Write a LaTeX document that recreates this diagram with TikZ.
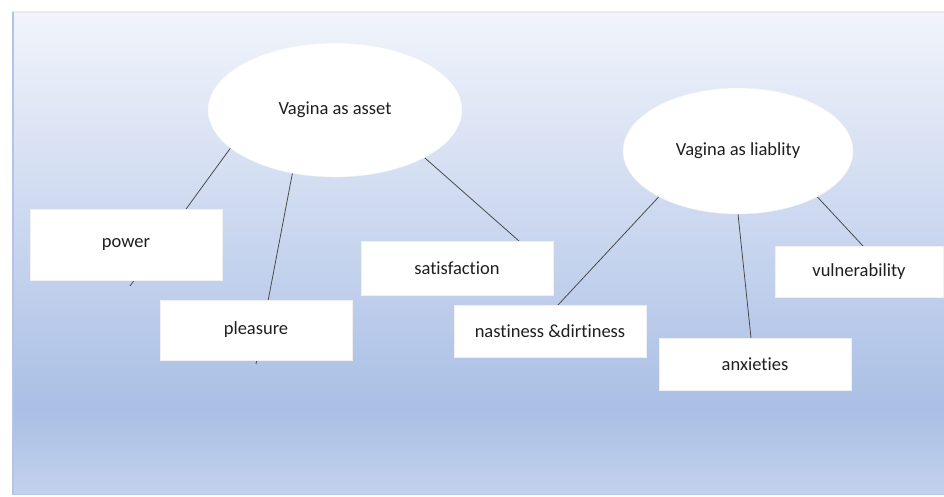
\documentclass[tikz,border=0pt]{standalone}
\usepackage{fontspec}
\setmainfont{Carlito}[Ligatures=NoCommon]
\usetikzlibrary{shapes.geometric}
\usetikzlibrary{backgrounds}

\pgfdeclarelayer{edges}
\pgfdeclarelayer{foreground}
\pgfsetlayers{background,edges,main,foreground}

\definecolor{bgtop}{HTML}{F1F4FB}
\definecolor{bgdeep}{HTML}{AABFE5}
\definecolor{bgbot}{HTML}{C3D2ED}
\definecolor{bgedge}{HTML}{A6BAE2}
\definecolor{linkgray}{HTML}{444444}

\tikzset{
  theme/.style={ellipse, fill=white, draw=black!6, inner sep=0pt, outer sep=0pt,
    font=\fontsize{18.5}{22}\selectfont, text=black!88},
  item/.style={rectangle, fill=white, draw=black!6, inner sep=0pt, outer sep=0pt,
    minimum width=192pt, font=\fontsize{18.5}{22}\selectfont, text=black!88},
  link/.style={draw=linkgray, line width=0.75pt}
}

\begin{document}
\begin{tikzpicture}[x=1pt, y=-1pt]

    \useasboundingbox (0,0) rectangle (944,496);

    % Backdrop
    \begin{scope}[on background layer]
      \shade[top color=bgtop, bottom color=bgdeep] (12,12) rectangle (944,410);
      \shade[top color=bgdeep, bottom color=bgbot] (12,410) rectangle (944,494);
      \draw[black!8, line width=1.2pt] (12,12) -- (944,12);
      \draw[bgedge!85, line width=2.5pt] (13,12) -- (13,494);
      \draw[bgedge!80, line width=1pt] (12,494) -- (944,494);
    \end{scope}

    % Themes
    \node[theme, minimum width=254pt, minimum height=134pt] (asset) at (335,110) {Vagina as asset};
    \node[theme, minimum width=230pt, minimum height=126pt] (liability) at (738,151) {Vagina as liablity};

    % Items
    \node[item, minimum height=71pt] (power) at (126,244.5) {power};
    \node[item, minimum height=60pt] (pleasure) at (256,330) {pleasure};
    \node[item, minimum height=54pt] (satisfaction) at (457,268) {satisfaction};
    \node[item, minimum height=52pt] (nastiness) at (550,331) {nastiness \&dirtiness};
    \node[item, minimum height=52pt] (anxieties) at (755,364) {anxieties};
    \node[item, minimum width=168pt, minimum height=51pt] (vulnerability) at (859,271.5) {vulnerability};

    % Loose ends behind the boxes
    \coordinate (powerEnd) at (130,286);
    \coordinate (pleasureEnd) at (256,364);

    % Links
    \begin{pgfonlayer}{edges}
      \draw[link] (asset.200) -- (powerEnd);
      \draw[link] (asset.236) -- (pleasureEnd);
      \draw[link] (asset.-28) -- ([xshift=62pt]satisfaction.north);
      \draw[link] (liability.210) -- ([xshift=8pt]nastiness.north);
      \draw[link] (liability.south) -- ([xshift=-4pt]anxieties.north);
      \draw[link] (liability.-30) -- ([xshift=4pt]vulnerability.north);
    \end{pgfonlayer}

\end{tikzpicture}
\end{document}
